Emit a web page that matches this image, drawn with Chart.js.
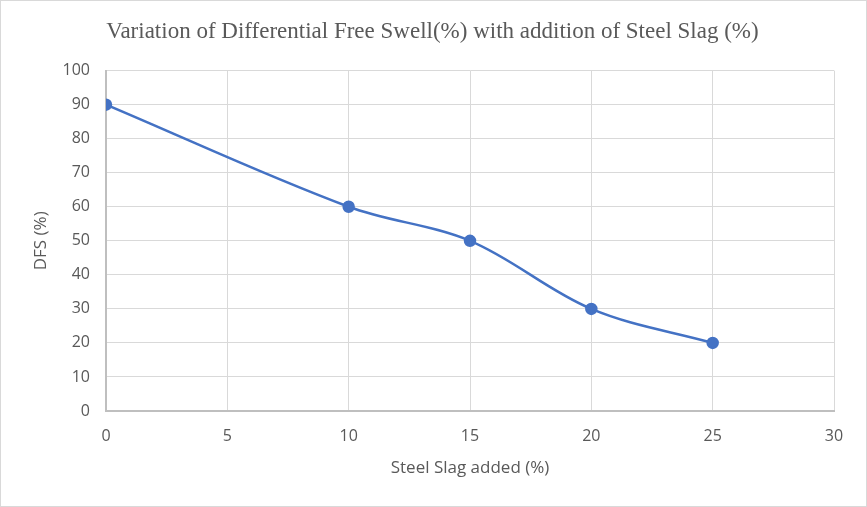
<!DOCTYPE html>
<html>
<head>
<meta charset="utf-8">
<script src="https://cdn.jsdelivr.net/npm/chart.js@4"></script>
<style>
  html, body { margin: 0; padding: 0; background: #fff; }
  #wrap { width: 867px; height: 507px; position: relative; box-sizing: border-box; border: 1px solid #d9d9d9; }
</style>
</head>
<body>
<div id="wrap"><canvas id="myChart"></canvas></div>
<script>
// Dáta z grafu
const slagAdded = [0, 10, 15, 20, 25];
const dfsValues = [90, 60, 50, 30, 20];
const xTicks = [0, 5, 10, 15, 20, 25, 30];
const yTicks = [0, 10, 20, 30, 40, 50, 60, 70, 80, 90, 100];

const points = slagAdded.map((x, i) => ({ x: x, y: dfsValues[i] }));

const ctx = document.getElementById("myChart").getContext("2d");
const myChart = new Chart(ctx, {
    type: "line",
    data: {
        datasets: [{
            label: "DFS",
            data: points,
            borderColor: "#4472C4",
            backgroundColor: "#4472C4",
            borderWidth: 2.5,
            pointRadius: 5,
            pointHoverRadius: 5,
            tension: 0.35,
            fill: false
        }]
    },
    options: {
        responsive: true,
        maintainAspectRatio: false,
        animation: false,
        layout: { padding: { left: 30, right: 32, top: 0, bottom: 28 } },
        plugins: {
            legend: { display: false },
            tooltip: { enabled: false },
            title: {
                display: true,
                text: "Variation of Differential Free Swell(%) with addition of Steel Slag (%)",
                color: "#595959",
                font: { family: "Liberation Serif", size: 23, weight: "normal" },
                padding: { top: 17, bottom: 25 }
            }
        },
        scales: {
            x: {
                type: "linear",
                min: 0,
                max: 30,
                afterBuildTicks: axis => { axis.ticks = xTicks.map(v => ({ value: v })); },
                afterFit: axis => { axis.height = 67; },
                grid: { color: "#d9d9d9", lineWidth: 1, drawTicks: false },
                border: { color: "#bfbfbf", width: 2 },
                ticks: { color: "#595959", font: { family: "Open Sans", size: 16 }, padding: 16 },
                title: {
                    display: true,
                    text: "Steel Slag added (%)",
                    color: "#595959",
                    font: { family: "Open Sans", size: 17 },
                    padding: { top: 2, bottom: 0 }
                }
            },
            y: {
                min: 0,
                max: 100,
                afterBuildTicks: axis => { axis.ticks = yTicks.map(v => ({ value: v })); },
                afterFit: axis => { axis.width = 75; },
                grid: { color: "#d9d9d9", lineWidth: 1, drawTicks: false },
                border: { color: "#bfbfbf", width: 2 },
                ticks: { color: "#595959", font: { family: "Open Sans", size: 16 }, padding: 16 },
                title: {
                    display: true,
                    text: "DFS (%)",
                    color: "#595959",
                    font: { family: "Open Sans", size: 17 },
                    padding: { top: 0, bottom: 0 }
                }
            }
        }
    }
});
</script>
</body>
</html>
